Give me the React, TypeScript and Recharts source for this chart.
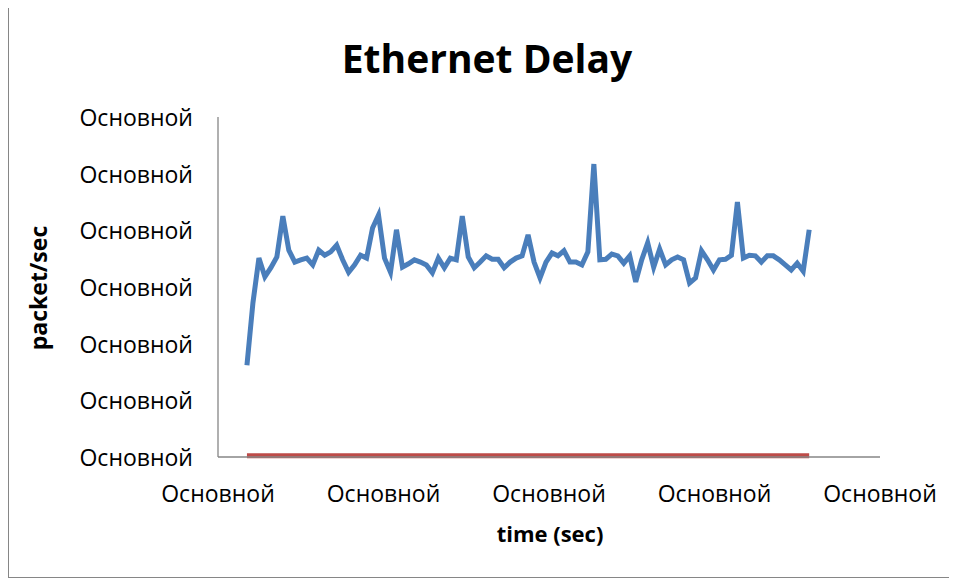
import React from 'react';
import { LineChart, Line, XAxis, YAxis } from 'recharts';

// time step index of each sample
const time = [
  1, 2, 3, 4, 5, 6, 7, 8, 9, 10, 11, 12, 13, 14, 15, 16, 17, 18, 19,
  20, 21, 22, 23, 24, 25, 26, 27, 28, 29, 30, 31, 32, 33, 34, 35, 36, 37, 38,
  39, 40, 41, 42, 43, 44, 45, 46, 47, 48, 49, 50, 51, 52, 53, 54, 55, 56, 57,
  58, 59, 60, 61, 62, 63, 64, 65, 66, 67, 68, 69, 70, 71, 72, 73, 74, 75, 76,
  77, 78, 79, 80, 81, 82, 83, 84, 85, 86, 87, 88, 89, 90, 91, 92, 93, 94, 95,
];

// blue series
const delay = [
  1.62, 2.72, 3.51, 3.18, 3.34, 3.53, 4.25, 3.65, 3.44, 3.48, 3.51, 3.39, 3.65, 3.56, 3.62, 3.74, 3.48, 3.26, 3.39,
  3.56, 3.51, 4.04, 4.27, 3.51, 3.26, 4.01, 3.35, 3.41, 3.48, 3.44, 3.39, 3.25, 3.51, 3.34, 3.51, 3.48, 4.25, 3.53,
  3.34, 3.44, 3.55, 3.49, 3.49, 3.34, 3.44, 3.51, 3.55, 3.92, 3.44, 3.16, 3.44, 3.60, 3.55, 3.64, 3.44, 3.44, 3.39,
  3.62, 5.17, 3.48, 3.49, 3.58, 3.55, 3.42, 3.55, 3.09, 3.48, 3.78, 3.35, 3.67, 3.39, 3.48, 3.53, 3.48, 3.07, 3.16,
  3.64, 3.48, 3.30, 3.48, 3.49, 3.56, 4.50, 3.51, 3.56, 3.55, 3.44, 3.55, 3.55, 3.48, 3.39, 3.30, 3.42, 3.28, 4.01,
];

// red series (flat)
const load = [
  0.02, 0.02, 0.02, 0.02, 0.02, 0.02, 0.02, 0.02, 0.02, 0.02, 0.02, 0.02, 0.02, 0.02, 0.02, 0.02, 0.02, 0.02, 0.02,
  0.02, 0.02, 0.02, 0.02, 0.02, 0.02, 0.02, 0.02, 0.02, 0.02, 0.02, 0.02, 0.02, 0.02, 0.02, 0.02, 0.02, 0.02, 0.02,
  0.02, 0.02, 0.02, 0.02, 0.02, 0.02, 0.02, 0.02, 0.02, 0.02, 0.02, 0.02, 0.02, 0.02, 0.02, 0.02, 0.02, 0.02, 0.02,
  0.02, 0.02, 0.02, 0.02, 0.02, 0.02, 0.02, 0.02, 0.02, 0.02, 0.02, 0.02, 0.02, 0.02, 0.02, 0.02, 0.02, 0.02, 0.02,
  0.02, 0.02, 0.02, 0.02, 0.02, 0.02, 0.02, 0.02, 0.02, 0.02, 0.02, 0.02, 0.02, 0.02, 0.02, 0.02, 0.02, 0.02, 0.02,
];

const yTicks = [0, 1, 2, 3, 4, 5, 6];
const tickText = 'Основной';

const xMin = -3.84;
const xMax = 106.84;
const xTicks = [0, 1, 2, 3, 4].map(i => xMin + (i * (xMax - xMin)) / 4);

const data = time.map((t, i) => ({ t, delay: delay[i], load: load[i] }));

const FONT = '"Open Sans", sans-serif';

const XTick = ({ x, y }: any) => (
  <text x={x} y={y + 34} textAnchor="middle" dominantBaseline="central" fontSize={23} fontFamily={FONT} fill="#000">
    {tickText}
  </text>
);

const YTick = ({ x, y }: any) => (
  <text x={x - 23} y={y} textAnchor="end" dominantBaseline="central" fontSize={23} fontFamily={FONT} fill="#000">
    {tickText}
  </text>
);

const App = () => {
  return (
    <div
      style={{
        position: 'relative',
        width: 947,
        height: 576,
        border: '1px solid #868686',
        marginTop: -8,
        background: '#fff',
        fontFamily: FONT,
      }}
    >
      <div
        style={{
          position: 'absolute',
          left: 0,
          width: 956,
          top: 32,
          textAlign: 'center',
          fontSize: 39,
          fontWeight: 700,
          lineHeight: '50px',
          color: '#000',
        }}
      >
        Ethernet Delay
      </div>
      <div
        style={{
          position: 'absolute',
          left: 29 - 80,
          top: 287 - 15,
          width: 160,
          textAlign: 'center',
          fontSize: 23,
          fontWeight: 700,
          lineHeight: '30px',
          transform: 'rotate(-90deg)',
        }}
      >
        packet/sec
      </div>
      <div
        style={{
          position: 'absolute',
          left: 541 - 100,
          top: 517,
          width: 200,
          textAlign: 'center',
          fontSize: 22,
          fontWeight: 700,
          lineHeight: '30px',
        }}
      >
        time (sec)
      </div>
      <LineChart width={947} height={576} data={data} margin={{ top: 116, right: 76, bottom: 0, left: 0 }}>
        <XAxis
          dataKey="t"
          type="number"
          domain={[xMin, xMax]}
          ticks={xTicks}
          allowDataOverflow
          height={120}
          tickLine={false}
          tickSize={0}
          tick={<XTick />}
          axisLine={{ stroke: '#868686', strokeWidth: 1.3 }}
        />
        <YAxis
          type="number"
          domain={[0, 6]}
          ticks={yTicks}
          width={209}
          tickLine={false}
          tickSize={0}
          tick={<YTick />}
          axisLine={{ stroke: '#868686', strokeWidth: 1.3 }}
        />
        <Line
          type="linear"
          dataKey="delay"
          stroke="#4a7ebb"
          strokeWidth={5}
          dot={false}
          isAnimationActive={false}
        />
        <Line
          type="linear"
          dataKey="load"
          stroke="#be4b48"
          strokeWidth={5}
          dot={false}
          isAnimationActive={false}
        />
      </LineChart>
    </div>
  );
};

export default App;
